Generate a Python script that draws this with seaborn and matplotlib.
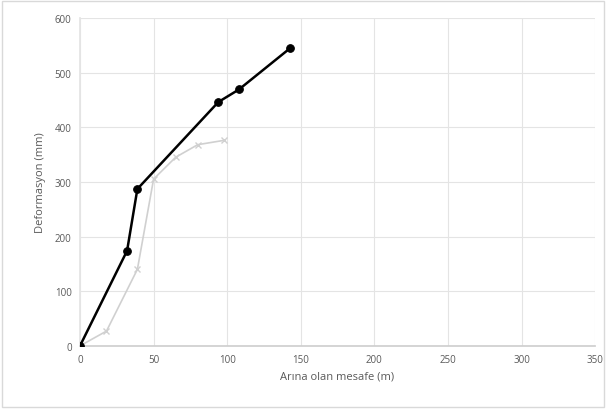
import matplotlib
import matplotlib.pyplot as plt
import pandas as pd
import seaborn as sns

matplotlib.use("Agg")

# Olculen (siyah) seri
mesafe_1 = [0, 32, 39, 94, 108, 143]
deform_1 = [0, 174, 287, 446, 469, 545]

# Ikinci (acik gri) seri
mesafe_2 = [0, 18, 39, 50, 65, 80, 98]
deform_2 = [0, 27, 140, 305, 345, 368, 376]

x_ticks = [0, 50, 100, 150, 200, 250, 300, 350]
y_ticks = [0, 100, 200, 300, 400, 500, 600]

GRI_YAZI = "#595959"
GRI_GRID = "#e4e4e4"

sns.set_theme(style="white")
plt.rcParams["font.family"] = ["Open Sans", "DejaVu Sans"]

fig = plt.figure(figsize=(6.06, 4.10), dpi=100)
fig.patch.set_facecolor("white")
ax = fig.add_axes([0.132, 0.154, 0.850, 0.800])

df1 = pd.DataFrame({"x": mesafe_1, "y": deform_1})
df2 = pd.DataFrame({"x": mesafe_2, "y": deform_2})

sns.lineplot(data=df2, x="x", y="y", sort=False, ax=ax, color="#d0d0d0",
             linewidth=1.2, marker="x", markersize=4, markeredgewidth=1,
             markeredgecolor="#d0d0d0", zorder=2)
sns.lineplot(data=df1, x="x", y="y", sort=False, ax=ax, color="black",
             linewidth=1.8, marker="o", markersize=5.5, markeredgecolor="black",
             zorder=3)

ax.set_xlim(0, 350)
ax.set_ylim(0, 600)
ax.set_xticks(x_ticks)
ax.set_yticks(y_ticks)
ax.tick_params(axis="both", labelsize=7, colors=GRI_YAZI, length=0, pad=6)
ax.grid(True, color=GRI_GRID, linewidth=0.8)
ax.set_axisbelow(True)
for side in ["top", "right"]:
    ax.spines[side].set_visible(False)
ax.spines["left"].set_color(GRI_GRID)
ax.spines["bottom"].set_color("#cfcfcf")

ax.set_xlabel("Arına olan mesafe (m)", fontsize=8, color=GRI_YAZI, labelpad=4)
ax.set_ylabel("Deformasyon (mm)", fontsize=8, color=GRI_YAZI, labelpad=6)

# Excel tarzi dis cerceve
fig.patches.append(plt.Rectangle((0.003, 0.004), 0.994, 0.99, transform=fig.transFigure,
                                 fill=False, edgecolor="#d9d9d9", linewidth=1))

fig.savefig("out.png", dpi=100, facecolor="white")
plt.close(fig)
